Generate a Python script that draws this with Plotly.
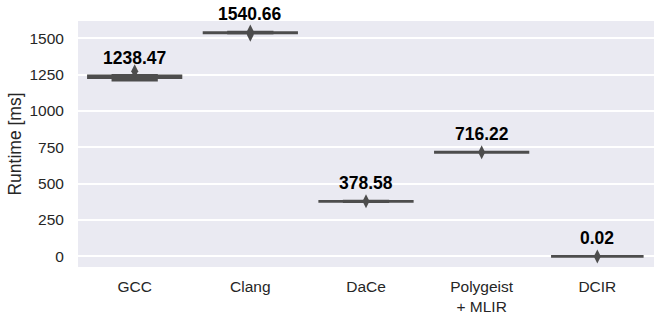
import plotly.graph_objects as go

categories = ["GCC", "Clang", "DaCe", "Polygeist<br>+ MLIR", "DCIR"]
labels = ["1238.47", "1540.66", "378.58", "716.22", "0.02"]
label_values = [1238.47, 1540.66, 378.58, 716.22, 0.02]
q1 = [1229, 1537, 378, 715.5, 0.015]
median = [1235, 1538, 378.6, 716.2, 0.02]
q3 = [1241, 1539, 379, 717, 0.025]
lower = [1211, 1535, 377, 715, 0.01]
upper = [1244, 1541, 380, 717.5, 0.03]
outlier_cats = ["GCC", "Clang", "Clang", "DaCe", "Polygeist<br>+ MLIR", "DCIR"]
outlier_vals = [1272, 1524, 1546, 379, 716, 0.02]

line_color = "#4d4d4d"
font_family = "Arial, 'Liberation Sans', sans-serif"

fig = go.Figure()
fig.add_trace(go.Box(
    x=categories, q1=q1, median=median, q3=q3,
    lowerfence=lower, upperfence=upper,
    width=0.8, whiskerwidth=0.5,
    line=dict(color=line_color, width=2.7),
    fillcolor=line_color,
    boxpoints=False, hoverinfo="skip", showlegend=False,
))
fig.add_trace(go.Scatter(
    x=outlier_cats, y=outlier_vals, mode="markers",
    marker=dict(symbol="diamond-tall", size=10, color=line_color,
                line=dict(width=0)),
    showlegend=False, hoverinfo="skip",
))
for c, t, v in zip(categories, labels, label_values):
    fig.add_annotation(x=c, y=v, text="<b>%s</b>" % t, showarrow=False,
                       yshift=18, yanchor="middle",
                       font=dict(size=17.5, color="black", family=font_family))

fig.update_layout(
    width=664, height=322,
    margin=dict(l=78, r=10, t=21, b=55),
    paper_bgcolor="white", plot_bgcolor="#EAEAF2",
    font=dict(family=font_family, size=15.5, color="#262626"),
    showlegend=False,
)
fig.update_xaxes(type="category", categoryorder="array", categoryarray=categories,
                 range=[-0.49, 4.49], showgrid=False, zeroline=False, automargin=False,
                 ticks="outside", ticklen=5, tickcolor="rgba(0,0,0,0)",
                 tickfont=dict(size=15.5, color="#262626"))
fig.update_yaxes(range=[-73, 1618], tickvals=[0, 250, 500, 750, 1000, 1250, 1500],
                 showgrid=True, gridcolor="white", gridwidth=1.5, zeroline=False,
                 automargin=False,
                 ticks="outside", ticklen=10, tickcolor="rgba(0,0,0,0)",
                 tickfont=dict(size=15.5, color="#262626"),
                 title=dict(text="Runtime [ms]", font=dict(size=17.5, color="#262626"),
                            standoff=3))
fig.write_html("out.html", config={"displayModeBar": False},
               post_script="document.body.style.margin='0';document.body.style.overflow='hidden';")
